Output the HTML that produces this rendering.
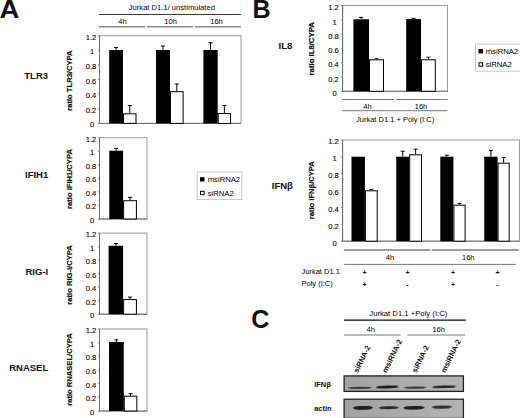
<!DOCTYPE html>
<html><head><meta charset="utf-8"><style>
html,body{margin:0;padding:0;background:#fff;}
body{width:520px;height:418px;overflow:hidden;}
svg{display:block;}
text{font-family:"Liberation Sans", sans-serif;fill:#000;stroke:#000;stroke-width:0px;}
text.t{stroke-width:0.1px;}
text[font-weight="bold"]{stroke-width:0;fill:#111;}
text.yt{stroke-width:0.2px;stroke:#111;}
</style></head><body>
<svg width="520" height="418" viewBox="0 0 520 418">
<defs>
<linearGradient id="blotg" x1="0" y1="0" x2="1" y2="0">
<stop offset="0" stop-color="#a2a2a2"/><stop offset="1" stop-color="#b4b4b4"/>
</linearGradient>
<filter id="blur" x="-20%" y="-150%" width="140%" height="400%"><feGaussianBlur stdDeviation="0.55"/></filter>
</defs>
<rect x="0" y="0" width="520" height="418" fill="#fff"/>
<text x="0" y="0" font-size="25" font-weight="bold" transform="translate(-0.6,17.6) scale(1.1,1)">A</text>
<text x="128.8" y="9.7" font-size="7.6" text-anchor="start" font-weight="normal" >Jurkat D1.1/ unstimulated</text>
<line x1="99" y1="14.5" x2="241" y2="14.5" stroke="#3a3a3a" stroke-width="1"/>
<text x="122.4" y="24.3" font-size="7.5" text-anchor="middle" font-weight="normal" >4h</text>
<text x="170.6" y="24.3" font-size="7.5" text-anchor="middle" font-weight="normal" >10h</text>
<text x="216.5" y="24.3" font-size="7.5" text-anchor="middle" font-weight="normal" >16h</text>
<line x1="99" y1="26.8" x2="145.5" y2="26.8" stroke="#8c8c8c" stroke-width="1.5"/>
<line x1="147" y1="26.8" x2="193" y2="26.8" stroke="#8c8c8c" stroke-width="1.5"/>
<line x1="194.5" y1="26.8" x2="241" y2="26.8" stroke="#8c8c8c" stroke-width="1.5"/>
<rect x="99.5" y="35.7" width="141.5" height="87.7" fill="none" stroke="#9a9a9a" stroke-width="1"/>
<line x1="99.5" y1="35.7" x2="99.5" y2="123.4" stroke="#6e6e6e" stroke-width="1"/>
<line x1="98.5" y1="123.4" x2="241" y2="123.4" stroke="#6e6e6e" stroke-width="1"/>
<text x="96.3" y="39.72" font-size="7.6" text-anchor="end" font-weight="normal" class="t">1.2</text>
<line x1="98.0" y1="35.7" x2="99.5" y2="35.7" stroke="#6e6e6e" stroke-width="0.8"/>
<text x="94.3" y="54.34" font-size="7.6" text-anchor="end" font-weight="normal" class="t">1</text>
<line x1="98.0" y1="50.31666666666667" x2="99.5" y2="50.31666666666667" stroke="#6e6e6e" stroke-width="0.8"/>
<text x="96.3" y="68.95" font-size="7.6" text-anchor="end" font-weight="normal" class="t">0.8</text>
<line x1="98.0" y1="64.93333333333334" x2="99.5" y2="64.93333333333334" stroke="#6e6e6e" stroke-width="0.8"/>
<text x="96.3" y="83.57" font-size="7.6" text-anchor="end" font-weight="normal" class="t">0.6</text>
<line x1="98.0" y1="79.55000000000001" x2="99.5" y2="79.55000000000001" stroke="#6e6e6e" stroke-width="0.8"/>
<text x="96.3" y="98.19" font-size="7.6" text-anchor="end" font-weight="normal" class="t">0.4</text>
<line x1="98.0" y1="94.16666666666667" x2="99.5" y2="94.16666666666667" stroke="#6e6e6e" stroke-width="0.8"/>
<text x="96.3" y="112.8" font-size="7.6" text-anchor="end" font-weight="normal" class="t">0.2</text>
<line x1="98.0" y1="108.78333333333335" x2="99.5" y2="108.78333333333335" stroke="#6e6e6e" stroke-width="0.8"/>
<text x="94.3" y="127.42" font-size="7.6" text-anchor="end" font-weight="normal" class="t">0</text>
<line x1="98.0" y1="123.4" x2="99.5" y2="123.4" stroke="#6e6e6e" stroke-width="0.8"/>
<line x1="116.1" y1="47.6" x2="116.1" y2="50.0" stroke="#000" stroke-width="1"/>
<line x1="114.1" y1="47.6" x2="118.1" y2="47.6" stroke="#000" stroke-width="1"/>
<rect x="109.2" y="50.0" width="13.799999999999997" height="73.4" fill="#000"/>
<line x1="129.75" y1="105.5" x2="129.75" y2="113.3" stroke="#000" stroke-width="1"/>
<line x1="127.75" y1="105.5" x2="131.75" y2="105.5" stroke="#000" stroke-width="1"/>
<rect x="123.5" y="113.8" width="12.5" height="9.600000000000009" fill="#fff" stroke="#000" stroke-width="1"/>
<line x1="163.0" y1="46.0" x2="163.0" y2="50.0" stroke="#000" stroke-width="1"/>
<line x1="161.0" y1="46.0" x2="165.0" y2="46.0" stroke="#000" stroke-width="1"/>
<rect x="156.0" y="50.0" width="14.0" height="73.4" fill="#000"/>
<line x1="176.8" y1="84.0" x2="176.8" y2="91.2" stroke="#000" stroke-width="1"/>
<line x1="174.8" y1="84.0" x2="178.8" y2="84.0" stroke="#000" stroke-width="1"/>
<rect x="170.5" y="91.7" width="12.599999999999994" height="31.700000000000003" fill="#fff" stroke="#000" stroke-width="1"/>
<line x1="210.55" y1="42.7" x2="210.55" y2="50.0" stroke="#000" stroke-width="1"/>
<line x1="208.55" y1="42.7" x2="212.55" y2="42.7" stroke="#000" stroke-width="1"/>
<rect x="203.4" y="50.0" width="14.299999999999983" height="73.4" fill="#000"/>
<line x1="224.35" y1="105.5" x2="224.35" y2="113.0" stroke="#000" stroke-width="1"/>
<line x1="222.35" y1="105.5" x2="226.35" y2="105.5" stroke="#000" stroke-width="1"/>
<rect x="218.2" y="113.5" width="12.300000000000011" height="9.900000000000006" fill="#fff" stroke="#000" stroke-width="1"/>
<text x="24.3" y="79.4" font-size="9.5" text-anchor="start" font-weight="bold" >TLR3</text>
<text class="yt" x="0" y="0" font-size="7.6" font-weight="bold" text-anchor="middle" transform="translate(72.0208,80.6) rotate(-90)">ratio TLR3/CYPA</text>
<rect x="99.5" y="137.7" width="47.5" height="81.30000000000001" fill="none" stroke="#9a9a9a" stroke-width="1"/>
<line x1="99.5" y1="137.7" x2="99.5" y2="219" stroke="#6e6e6e" stroke-width="1"/>
<line x1="98.5" y1="219" x2="147" y2="219" stroke="#6e6e6e" stroke-width="1"/>
<text x="96.3" y="141.72" font-size="7.6" text-anchor="end" font-weight="normal" class="t">1.2</text>
<line x1="98.0" y1="137.7" x2="99.5" y2="137.7" stroke="#6e6e6e" stroke-width="0.8"/>
<text x="94.3" y="155.27" font-size="7.6" text-anchor="end" font-weight="normal" class="t">1</text>
<line x1="98.0" y1="151.25" x2="99.5" y2="151.25" stroke="#6e6e6e" stroke-width="0.8"/>
<text x="96.3" y="168.82" font-size="7.6" text-anchor="end" font-weight="normal" class="t">0.8</text>
<line x1="98.0" y1="164.79999999999998" x2="99.5" y2="164.79999999999998" stroke="#6e6e6e" stroke-width="0.8"/>
<text x="96.3" y="182.37" font-size="7.6" text-anchor="end" font-weight="normal" class="t">0.6</text>
<line x1="98.0" y1="178.35" x2="99.5" y2="178.35" stroke="#6e6e6e" stroke-width="0.8"/>
<text x="96.3" y="195.92" font-size="7.6" text-anchor="end" font-weight="normal" class="t">0.4</text>
<line x1="98.0" y1="191.9" x2="99.5" y2="191.9" stroke="#6e6e6e" stroke-width="0.8"/>
<text x="96.3" y="209.47" font-size="7.6" text-anchor="end" font-weight="normal" class="t">0.2</text>
<line x1="98.0" y1="205.45" x2="99.5" y2="205.45" stroke="#6e6e6e" stroke-width="0.8"/>
<text x="94.3" y="223.02" font-size="7.6" text-anchor="end" font-weight="normal" class="t">0</text>
<line x1="98.0" y1="219.0" x2="99.5" y2="219.0" stroke="#6e6e6e" stroke-width="0.8"/>
<line x1="116.19999999999999" y1="148.4" x2="116.19999999999999" y2="150.7" stroke="#000" stroke-width="1"/>
<line x1="114.19999999999999" y1="148.4" x2="118.19999999999999" y2="148.4" stroke="#000" stroke-width="1"/>
<rect x="109.3" y="150.7" width="13.799999999999997" height="68.30000000000001" fill="#000"/>
<line x1="130.0" y1="197.4" x2="130.0" y2="200.2" stroke="#000" stroke-width="1"/>
<line x1="128.0" y1="197.4" x2="132.0" y2="197.4" stroke="#000" stroke-width="1"/>
<rect x="123.6" y="200.7" width="12.800000000000011" height="18.30000000000001" fill="#fff" stroke="#000" stroke-width="1"/>
<text x="25.0" y="178.0" font-size="9.5" text-anchor="start" font-weight="bold" >IFIH1</text>
<text class="yt" x="0" y="0" font-size="7.6" font-weight="bold" text-anchor="middle" transform="translate(72.1208,179) rotate(-90)">ratio IFIH1/CYPA</text>
<rect x="99.5" y="233.1" width="47.5" height="81.1" fill="none" stroke="#9a9a9a" stroke-width="1"/>
<line x1="99.5" y1="233.1" x2="99.5" y2="314.2" stroke="#6e6e6e" stroke-width="1"/>
<line x1="98.5" y1="314.2" x2="147" y2="314.2" stroke="#6e6e6e" stroke-width="1"/>
<text x="96.3" y="237.12" font-size="7.6" text-anchor="end" font-weight="normal" class="t">1.2</text>
<line x1="98.0" y1="233.1" x2="99.5" y2="233.1" stroke="#6e6e6e" stroke-width="0.8"/>
<text x="94.3" y="250.64" font-size="7.6" text-anchor="end" font-weight="normal" class="t">1</text>
<line x1="98.0" y1="246.61666666666667" x2="99.5" y2="246.61666666666667" stroke="#6e6e6e" stroke-width="0.8"/>
<text x="96.3" y="264.15" font-size="7.6" text-anchor="end" font-weight="normal" class="t">0.8</text>
<line x1="98.0" y1="260.1333333333333" x2="99.5" y2="260.1333333333333" stroke="#6e6e6e" stroke-width="0.8"/>
<text x="96.3" y="277.67" font-size="7.6" text-anchor="end" font-weight="normal" class="t">0.6</text>
<line x1="98.0" y1="273.65" x2="99.5" y2="273.65" stroke="#6e6e6e" stroke-width="0.8"/>
<text x="96.3" y="291.19" font-size="7.6" text-anchor="end" font-weight="normal" class="t">0.4</text>
<line x1="98.0" y1="287.16666666666663" x2="99.5" y2="287.16666666666663" stroke="#6e6e6e" stroke-width="0.8"/>
<text x="96.3" y="304.7" font-size="7.6" text-anchor="end" font-weight="normal" class="t">0.2</text>
<line x1="98.0" y1="300.68333333333334" x2="99.5" y2="300.68333333333334" stroke="#6e6e6e" stroke-width="0.8"/>
<text x="94.3" y="318.22" font-size="7.6" text-anchor="end" font-weight="normal" class="t">0</text>
<line x1="98.0" y1="314.2" x2="99.5" y2="314.2" stroke="#6e6e6e" stroke-width="0.8"/>
<line x1="115.85" y1="243.5" x2="115.85" y2="245.8" stroke="#000" stroke-width="1"/>
<line x1="113.85" y1="243.5" x2="117.85" y2="243.5" stroke="#000" stroke-width="1"/>
<rect x="108.6" y="245.8" width="14.5" height="68.39999999999998" fill="#000"/>
<line x1="130.0" y1="297.1" x2="130.0" y2="299.1" stroke="#000" stroke-width="1"/>
<line x1="128.0" y1="297.1" x2="132.0" y2="297.1" stroke="#000" stroke-width="1"/>
<rect x="123.6" y="299.6" width="12.800000000000011" height="14.599999999999966" fill="#fff" stroke="#000" stroke-width="1"/>
<text x="25.5" y="275.4" font-size="9.5" text-anchor="start" font-weight="bold" >RIG-I</text>
<text class="yt" x="0" y="0" font-size="7.6" font-weight="bold" text-anchor="middle" transform="translate(72.1208,275) rotate(-90)">ratio RIG-I/CYPA</text>
<rect x="99.5" y="329" width="47.5" height="82" fill="none" stroke="#9a9a9a" stroke-width="1"/>
<line x1="99.5" y1="329" x2="99.5" y2="411" stroke="#6e6e6e" stroke-width="1"/>
<line x1="98.5" y1="411" x2="147" y2="411" stroke="#6e6e6e" stroke-width="1"/>
<text x="96.3" y="333.02" font-size="7.6" text-anchor="end" font-weight="normal" class="t">1.2</text>
<line x1="98.0" y1="329.0" x2="99.5" y2="329.0" stroke="#6e6e6e" stroke-width="0.8"/>
<text x="94.3" y="346.69" font-size="7.6" text-anchor="end" font-weight="normal" class="t">1</text>
<line x1="98.0" y1="342.6666666666667" x2="99.5" y2="342.6666666666667" stroke="#6e6e6e" stroke-width="0.8"/>
<text x="96.3" y="360.35" font-size="7.6" text-anchor="end" font-weight="normal" class="t">0.8</text>
<line x1="98.0" y1="356.3333333333333" x2="99.5" y2="356.3333333333333" stroke="#6e6e6e" stroke-width="0.8"/>
<text x="96.3" y="374.02" font-size="7.6" text-anchor="end" font-weight="normal" class="t">0.6</text>
<line x1="98.0" y1="370.0" x2="99.5" y2="370.0" stroke="#6e6e6e" stroke-width="0.8"/>
<text x="96.3" y="387.69" font-size="7.6" text-anchor="end" font-weight="normal" class="t">0.4</text>
<line x1="98.0" y1="383.6666666666667" x2="99.5" y2="383.6666666666667" stroke="#6e6e6e" stroke-width="0.8"/>
<text x="96.3" y="401.35" font-size="7.6" text-anchor="end" font-weight="normal" class="t">0.2</text>
<line x1="98.0" y1="397.3333333333333" x2="99.5" y2="397.3333333333333" stroke="#6e6e6e" stroke-width="0.8"/>
<text x="94.3" y="415.02" font-size="7.6" text-anchor="end" font-weight="normal" class="t">0</text>
<line x1="98.0" y1="411.0" x2="99.5" y2="411.0" stroke="#6e6e6e" stroke-width="0.8"/>
<line x1="116.4" y1="339.9" x2="116.4" y2="342.0" stroke="#000" stroke-width="1"/>
<line x1="114.4" y1="339.9" x2="118.4" y2="339.9" stroke="#000" stroke-width="1"/>
<rect x="109.0" y="342.0" width="14.799999999999997" height="69.0" fill="#000"/>
<line x1="130.55" y1="393.7" x2="130.55" y2="395.7" stroke="#000" stroke-width="1"/>
<line x1="128.55" y1="393.7" x2="132.55" y2="393.7" stroke="#000" stroke-width="1"/>
<rect x="124.3" y="396.2" width="12.500000000000014" height="14.800000000000011" fill="#fff" stroke="#000" stroke-width="1"/>
<text x="9.2" y="370.8" font-size="9.5" text-anchor="start" font-weight="bold" >RNASEL</text>
<text class="yt" x="0" y="0" font-size="7.6" font-weight="bold" text-anchor="middle" transform="translate(72.1208,369.5) rotate(-90)">ratio RNASEL/CYPA</text>
<rect x="197.2" y="172" width="44.60000000000002" height="27.5" fill="#fff" stroke="#c8c8c8" stroke-width="1"/>
<rect x="200" y="177.2" width="4.5" height="4.3" fill="#000"/>
<rect x="200.5" y="191.3" width="3.6" height="3.4" fill="#fff" stroke="#000" stroke-width="1"/>
<text x="207.7" y="182.1066" font-size="7.7" text-anchor="start" font-weight="normal" >msiRNA2</text>
<text x="207.7" y="195.7066" font-size="7.7" text-anchor="start" font-weight="normal" >siRNA2</text>
<text x="252.5" y="18.2" font-size="25" text-anchor="start" font-weight="bold" >B</text>
<rect x="342.6" y="5.5" width="104.89999999999998" height="85.8" fill="none" stroke="#9a9a9a" stroke-width="1"/>
<line x1="342.6" y1="5.5" x2="342.6" y2="91.3" stroke="#6e6e6e" stroke-width="1"/>
<line x1="341.6" y1="91.3" x2="447.5" y2="91.3" stroke="#6e6e6e" stroke-width="1"/>
<text x="338.8" y="10.22" font-size="7.6" text-anchor="end" font-weight="normal" class="t">1.2</text>
<line x1="341.1" y1="5.5" x2="342.6" y2="5.5" stroke="#6e6e6e" stroke-width="0.8"/>
<text x="336.8" y="24.52" font-size="7.6" text-anchor="end" font-weight="normal" class="t">1</text>
<line x1="341.1" y1="19.799999999999997" x2="342.6" y2="19.799999999999997" stroke="#6e6e6e" stroke-width="0.8"/>
<text x="338.8" y="38.82" font-size="7.6" text-anchor="end" font-weight="normal" class="t">0.8</text>
<line x1="341.1" y1="34.099999999999994" x2="342.6" y2="34.099999999999994" stroke="#6e6e6e" stroke-width="0.8"/>
<text x="338.8" y="53.12" font-size="7.6" text-anchor="end" font-weight="normal" class="t">0.6</text>
<line x1="341.1" y1="48.4" x2="342.6" y2="48.4" stroke="#6e6e6e" stroke-width="0.8"/>
<text x="338.8" y="67.42" font-size="7.6" text-anchor="end" font-weight="normal" class="t">0.4</text>
<line x1="341.1" y1="62.699999999999996" x2="342.6" y2="62.699999999999996" stroke="#6e6e6e" stroke-width="0.8"/>
<text x="338.8" y="81.72" font-size="7.6" text-anchor="end" font-weight="normal" class="t">0.2</text>
<line x1="341.1" y1="77.0" x2="342.6" y2="77.0" stroke="#6e6e6e" stroke-width="0.8"/>
<text x="336.8" y="96.02" font-size="7.6" text-anchor="end" font-weight="normal" class="t">0</text>
<line x1="341.1" y1="91.3" x2="342.6" y2="91.3" stroke="#6e6e6e" stroke-width="0.8"/>
<line x1="361.2" y1="17.4" x2="361.2" y2="19.3" stroke="#000" stroke-width="1"/>
<line x1="359.2" y1="17.4" x2="363.2" y2="17.4" stroke="#000" stroke-width="1"/>
<rect x="353.4" y="19.3" width="15.600000000000023" height="72.0" fill="#000"/>
<line x1="376.5" y1="58.8" x2="376.5" y2="59.3" stroke="#000" stroke-width="1"/>
<line x1="374.5" y1="58.8" x2="378.5" y2="58.8" stroke="#000" stroke-width="1"/>
<rect x="369.5" y="59.8" width="14.0" height="31.5" fill="#fff" stroke="#000" stroke-width="1"/>
<line x1="413.6" y1="18.3" x2="413.6" y2="19.1" stroke="#000" stroke-width="1"/>
<line x1="411.6" y1="18.3" x2="415.6" y2="18.3" stroke="#000" stroke-width="1"/>
<rect x="406.2" y="19.1" width="14.800000000000011" height="72.19999999999999" fill="#000"/>
<line x1="428.4" y1="57.2" x2="428.4" y2="59.3" stroke="#000" stroke-width="1"/>
<line x1="426.4" y1="57.2" x2="430.4" y2="57.2" stroke="#000" stroke-width="1"/>
<rect x="421.5" y="59.8" width="13.800000000000011" height="31.5" fill="#fff" stroke="#000" stroke-width="1"/>
<text x="278.5" y="48.7" font-size="9.7" text-anchor="start" font-weight="bold" >IL8</text>
<text class="yt" x="0" y="0" font-size="7.75" font-weight="bold" text-anchor="middle" transform="translate(313.67449999999997,48.8) rotate(-90)">ratio IL8/CYPA</text>
<line x1="342" y1="99.5" x2="394.3" y2="99.5" stroke="#777" stroke-width="1"/>
<line x1="396.2" y1="99.5" x2="447.5" y2="99.5" stroke="#777" stroke-width="1"/>
<text x="367.5" y="108.6" font-size="7.5" text-anchor="middle" font-weight="normal" >4h</text>
<text x="421" y="108.6" font-size="7.5" text-anchor="middle" font-weight="normal" >16h</text>
<line x1="342" y1="110.7" x2="447.5" y2="110.7" stroke="#777" stroke-width="1"/>
<text x="356" y="122.2" font-size="7.5" text-anchor="start" font-weight="normal" >Jurkat D1.1 + Poly (I:C)</text>
<rect x="475.5" y="44.1" width="45.5" height="27.1" fill="#fff" stroke="#c8c8c8" stroke-width="1"/>
<rect x="478.5" y="49.1" width="4.5" height="4.3" fill="#000"/>
<rect x="479.0" y="62.8" width="3.6" height="3.4" fill="#fff" stroke="#000" stroke-width="1"/>
<text x="485.7" y="54.0066" font-size="7.7" text-anchor="start" font-weight="normal" >msiRNA2</text>
<text x="485.7" y="67.20660000000001" font-size="7.7" text-anchor="start" font-weight="normal" >siRNA2</text>
<rect x="342.6" y="140" width="176.89999999999998" height="101.19999999999999" fill="none" stroke="#9a9a9a" stroke-width="1"/>
<line x1="342.6" y1="140" x2="342.6" y2="241.2" stroke="#6e6e6e" stroke-width="1"/>
<line x1="341.6" y1="241.2" x2="519.5" y2="241.2" stroke="#6e6e6e" stroke-width="1"/>
<text x="338.8" y="144.32" font-size="7.6" text-anchor="end" font-weight="normal" class="t">1.2</text>
<line x1="341.1" y1="140.0" x2="342.6" y2="140.0" stroke="#6e6e6e" stroke-width="0.8"/>
<text x="336.8" y="161.19" font-size="7.6" text-anchor="end" font-weight="normal" class="t">1</text>
<line x1="341.1" y1="156.86666666666667" x2="342.6" y2="156.86666666666667" stroke="#6e6e6e" stroke-width="0.8"/>
<text x="338.8" y="178.05" font-size="7.6" text-anchor="end" font-weight="normal" class="t">0.8</text>
<line x1="341.1" y1="173.73333333333332" x2="342.6" y2="173.73333333333332" stroke="#6e6e6e" stroke-width="0.8"/>
<text x="338.8" y="194.92" font-size="7.6" text-anchor="end" font-weight="normal" class="t">0.6</text>
<line x1="341.1" y1="190.6" x2="342.6" y2="190.6" stroke="#6e6e6e" stroke-width="0.8"/>
<text x="338.8" y="211.79" font-size="7.6" text-anchor="end" font-weight="normal" class="t">0.4</text>
<line x1="341.1" y1="207.46666666666664" x2="342.6" y2="207.46666666666664" stroke="#6e6e6e" stroke-width="0.8"/>
<text x="338.8" y="228.65" font-size="7.6" text-anchor="end" font-weight="normal" class="t">0.2</text>
<line x1="341.1" y1="224.33333333333331" x2="342.6" y2="224.33333333333331" stroke="#6e6e6e" stroke-width="0.8"/>
<text x="336.8" y="245.52" font-size="7.6" text-anchor="end" font-weight="normal" class="t">0</text>
<line x1="341.1" y1="241.2" x2="342.6" y2="241.2" stroke="#6e6e6e" stroke-width="0.8"/>
<rect x="351.5" y="156.7" width="13.399999999999977" height="84.5" fill="#000"/>
<line x1="371.29999999999995" y1="189.5" x2="371.29999999999995" y2="190.3" stroke="#000" stroke-width="1"/>
<line x1="369.29999999999995" y1="189.5" x2="373.29999999999995" y2="189.5" stroke="#000" stroke-width="1"/>
<rect x="365.4" y="190.8" width="11.800000000000011" height="50.39999999999998" fill="#fff" stroke="#000" stroke-width="1"/>
<line x1="402.7" y1="151.2" x2="402.7" y2="156.7" stroke="#000" stroke-width="1"/>
<line x1="400.7" y1="151.2" x2="404.7" y2="151.2" stroke="#000" stroke-width="1"/>
<rect x="396.2" y="156.7" width="13.0" height="84.5" fill="#000"/>
<line x1="415.6" y1="149.2" x2="415.6" y2="154.3" stroke="#000" stroke-width="1"/>
<line x1="413.6" y1="149.2" x2="417.6" y2="149.2" stroke="#000" stroke-width="1"/>
<rect x="409.7" y="154.8" width="11.800000000000011" height="86.39999999999998" fill="#fff" stroke="#000" stroke-width="1"/>
<line x1="446.85" y1="155.2" x2="446.85" y2="156.7" stroke="#000" stroke-width="1"/>
<line x1="444.85" y1="155.2" x2="448.85" y2="155.2" stroke="#000" stroke-width="1"/>
<rect x="440.3" y="156.7" width="13.099999999999966" height="84.5" fill="#000"/>
<line x1="459.5" y1="203.4" x2="459.5" y2="204.7" stroke="#000" stroke-width="1"/>
<line x1="457.5" y1="203.4" x2="461.5" y2="203.4" stroke="#000" stroke-width="1"/>
<rect x="453.9" y="205.2" width="11.200000000000045" height="36.0" fill="#fff" stroke="#000" stroke-width="1"/>
<line x1="490.9" y1="150.4" x2="490.9" y2="156.7" stroke="#000" stroke-width="1"/>
<line x1="488.9" y1="150.4" x2="492.9" y2="150.4" stroke="#000" stroke-width="1"/>
<rect x="484.2" y="156.7" width="13.400000000000034" height="84.5" fill="#000"/>
<line x1="503.65" y1="157.4" x2="503.65" y2="162.7" stroke="#000" stroke-width="1"/>
<line x1="501.65" y1="157.4" x2="505.65" y2="157.4" stroke="#000" stroke-width="1"/>
<rect x="498.1" y="163.2" width="11.099999999999966" height="78.0" fill="#fff" stroke="#000" stroke-width="1"/>
<text x="271.8" y="188.5" font-size="9.5" text-anchor="start" font-weight="bold" >IFN&#946;</text>
<text class="yt" x="0" y="0" font-size="7.6" font-weight="bold" text-anchor="middle" transform="translate(314.1208,190.2) rotate(-90)">ratio IFN&#946;/CYPA</text>
<line x1="343.8" y1="250" x2="430.3" y2="250" stroke="#808080" stroke-width="1.5"/>
<line x1="431.8" y1="250" x2="518.8" y2="250" stroke="#808080" stroke-width="1.5"/>
<text x="390" y="259.7" font-size="7.5" text-anchor="middle" font-weight="normal" >4h</text>
<text x="468.3" y="259.7" font-size="7.5" text-anchor="middle" font-weight="normal" >16h</text>
<line x1="343.8" y1="264.4" x2="516" y2="264.4" stroke="#777" stroke-width="1"/>
<text x="301.5" y="273.6" font-size="7.5" text-anchor="start" font-weight="normal" >Jurkat D1.1</text>
<text x="301.5" y="286.1" font-size="7.5" text-anchor="start" font-weight="normal" >Poly (I:C)</text>
<text x="364.5" y="274.9" font-size="7" text-anchor="middle" font-weight="bold" >+</text>
<text x="364.5" y="287.1" font-size="7" text-anchor="middle" font-weight="bold" >+</text>
<text x="407.5" y="274.9" font-size="7" text-anchor="middle" font-weight="bold" >+</text>
<text x="407.5" y="287.1" font-size="7" text-anchor="middle" font-weight="bold" >-</text>
<text x="453" y="274.9" font-size="7" text-anchor="middle" font-weight="bold" >+</text>
<text x="453" y="287.1" font-size="7" text-anchor="middle" font-weight="bold" >+</text>
<text x="497.5" y="274.9" font-size="7" text-anchor="middle" font-weight="bold" >+</text>
<text x="497.5" y="287.1" font-size="7" text-anchor="middle" font-weight="bold" >-</text>
<text x="251.2" y="327.9" font-size="25" text-anchor="start" font-weight="bold" >C</text>
<text x="369.3" y="316.1" font-size="7.7" text-anchor="start" font-weight="normal" >Jurkat D1.1 +Poly (I:C)</text>
<line x1="344" y1="320.2" x2="466" y2="320.2" stroke="#111" stroke-width="1.3"/>
<text x="370.7" y="331.7" font-size="7.5" text-anchor="middle" font-weight="normal" >4h</text>
<text x="438.7" y="331.7" font-size="7.5" text-anchor="middle" font-weight="normal" >16h</text>
<line x1="344" y1="335" x2="400.5" y2="335" stroke="#777" stroke-width="1"/>
<line x1="407.4" y1="335" x2="465" y2="335" stroke="#777" stroke-width="1"/>
<text x="0" y="0" font-size="7.5" font-weight="bold" transform="translate(357.8,373.3) rotate(-64)">siRNA-2</text>
<text x="0" y="0" font-size="7.5" font-weight="bold" transform="translate(386.5,373.3) rotate(-64)">msiRNA-2</text>
<text x="0" y="0" font-size="7.5" font-weight="bold" transform="translate(416.3,373.3) rotate(-64)">siRNA-2</text>
<text x="0" y="0" font-size="7.5" font-weight="bold" transform="translate(445.3,373.3) rotate(-64)">msiRNA-2</text>
<rect x="344.1" y="375.90000000000003" width="119.3" height="15.49999999999999" fill="url(#blotg)" stroke="#222" stroke-width="1.3"/>
<ellipse cx="359.85" cy="387.8" rx="12.149999999999995" ry="1.1" fill="#1a1a1a" opacity="0.6" filter="url(#blur)" transform="rotate(-0.6,359.85,387.8)"/>
<rect x="350.0" y="386.92" width="19.69999999999999" height="1.7600000000000002" rx="0.8800000000000001" fill="#1a1a1a" opacity="0.48" filter="url(#blur)" transform="rotate(-0.6,359.85,387.8)"/>
<ellipse cx="387.3" cy="387.0" rx="11.8" ry="1.4" fill="#1a1a1a" opacity="0.95" filter="url(#blur)" transform="rotate(-2.0,387.3,387.0)"/>
<rect x="377.8" y="385.88" width="19.0" height="2.2399999999999998" rx="1.1199999999999999" fill="#1a1a1a" opacity="0.76" filter="url(#blur)" transform="rotate(-2.0,387.3,387.0)"/>
<ellipse cx="415.1" cy="387.6" rx="11.700000000000006" ry="1.1" fill="#1a1a1a" opacity="0.6" filter="url(#blur)" transform="rotate(-0.6,415.1,387.6)"/>
<rect x="405.7" y="386.72" width="18.80000000000001" height="1.7600000000000002" rx="0.8800000000000001" fill="#1a1a1a" opacity="0.48" filter="url(#blur)" transform="rotate(-0.6,415.1,387.6)"/>
<ellipse cx="444.0" cy="386.8" rx="12.8" ry="1.3" fill="#1a1a1a" opacity="0.8" filter="url(#blur)" transform="rotate(-1.5,444.0,386.8)"/>
<rect x="433.5" y="385.76" width="21.0" height="2.08" rx="1.04" fill="#1a1a1a" opacity="0.6400000000000001" filter="url(#blur)" transform="rotate(-1.5,444.0,386.8)"/>
<rect x="344.1" y="399.20000000000005" width="119.3" height="19.199999999999978" fill="url(#blotg)" stroke="#222" stroke-width="1.3"/>
<ellipse cx="362.95000000000005" cy="407.8" rx="10.149999999999995" ry="1.9" fill="#1a1a1a" opacity="0.95" filter="url(#blur)" transform="rotate(-1.0,362.95000000000005,407.8)"/>
<rect x="355.1" y="406.28000000000003" width="15.699999999999989" height="3.04" rx="1.52" fill="#1a1a1a" opacity="0.76" filter="url(#blur)" transform="rotate(-1.0,362.95000000000005,407.8)"/>
<ellipse cx="388.75" cy="407.7" rx="10.350000000000012" ry="1.5" fill="#1a1a1a" opacity="0.75" filter="url(#blur)" transform="rotate(-1.0,388.75,407.7)"/>
<rect x="380.7" y="406.5" width="16.100000000000023" height="2.4000000000000004" rx="1.2000000000000002" fill="#1a1a1a" opacity="0.6000000000000001" filter="url(#blur)" transform="rotate(-1.0,388.75,407.7)"/>
<ellipse cx="414.0" cy="407.8" rx="10.8" ry="1.8" fill="#1a1a1a" opacity="0.95" filter="url(#blur)" transform="rotate(-1.0,414.0,407.8)"/>
<rect x="405.5" y="406.36" width="17.0" height="2.8800000000000003" rx="1.4400000000000002" fill="#1a1a1a" opacity="0.76" filter="url(#blur)" transform="rotate(-1.0,414.0,407.8)"/>
<ellipse cx="441.85" cy="407.1" rx="10.649999999999995" ry="1.6" fill="#1a1a1a" opacity="0.7" filter="url(#blur)" transform="rotate(-1.2,441.85,407.1)"/>
<rect x="433.5" y="405.82000000000005" width="16.69999999999999" height="2.5600000000000005" rx="1.2800000000000002" fill="#1a1a1a" opacity="0.5599999999999999" filter="url(#blur)" transform="rotate(-1.2,441.85,407.1)"/>
<text x="314.2" y="387.4" font-size="7.5" text-anchor="start" font-weight="bold" >IFN&#946;</text>
<text x="314.2" y="410.5" font-size="7.5" text-anchor="start" font-weight="bold" >actin</text>
</svg>
</body></html>
